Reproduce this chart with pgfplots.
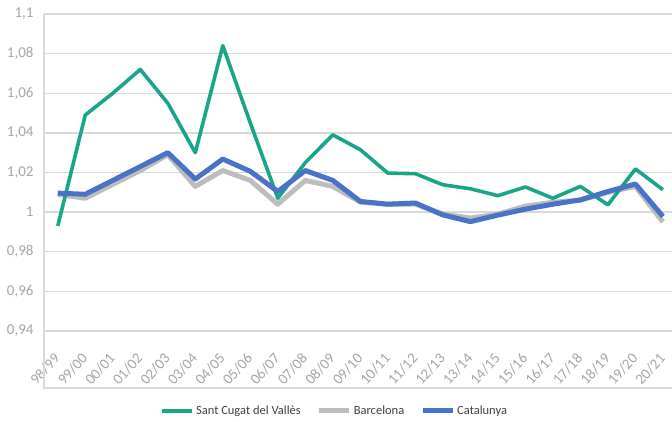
\documentclass[border=0pt]{standalone}
\usepackage{pgfplots}
\pgfplotsset{compat=1.18}
\usepackage{fontspec}
\setmainfont{Carlito}
\definecolor{scgreen}{HTML}{1AA58B}
\definecolor{bcngray}{HTML}{BDBDBD}
\definecolor{catblue}{HTML}{4A72C6}
\definecolor{tickgray}{HTML}{A6A6A6}
\definecolor{gridgray}{HTML}{D9D9D9}
\begin{document}
\begin{tikzpicture}
\begin{axis}[
  scale only axis, width=628pt, height=317pt,
  xmin=-0.5, xmax=22.33, ymin=0.94, ymax=1.1,
  clip=false,
  axis line style={draw=none},
  tick style={draw=none},
  ymajorgrids, grid style={gridgray, line width=1.3pt},
  ytick={0.94,0.96,0.98,1,1.02,1.04,1.06,1.08,1.1},
  yticklabels={{0,94},{0,96},{0,98},{1},{1,02},{1,04},{1,06},{1,08},{1,1}},
  xtick={0,...,22},
  xticklabels={98/99,99/00,00/01,01/02,02/03,03/04,04/05,05/06,06/07,07/08,08/09,09/10,10/11,11/12,12/13,13/14,14/15,15/16,16/17,17/18,18/19,19/20,20/21},
  /pgf/number format/assume math mode=true,
  ticklabel style={font=\fontsize{15}{17}\selectfont, text=tickgray},
  xticklabel style={xshift=-5pt, yshift=-16pt, rotate=48, anchor=north east},
  yticklabel style={xshift=-7pt},
  legend columns=3,
  legend style={at={(rel axis cs:0.463,-0.252)}, anchor=center, draw=none, fill=none,
    font=\fontsize{12.5}{14}\selectfont, text=black!75,
    /tikz/every even column/.append style={column sep=14pt}},
  legend image code/.code={\draw[#1, line cap=butt] (0pt,0pt) -- (30pt,0pt);},
]
\addplot[bcngray, line width=5pt, line join=round, forget plot] coordinates {
(0,1.009) (1,1.007) (2,1.014) (3,1.021) (4,1.029) (5,1.013) (6,1.021) (7,1.016)
(8,1.004) (9,1.016) (10,1.013) (11,1.005) (12,1.004) (13,1.004) (14,0.999) (15,0.997)
(16,0.999) (17,1.003) (18,1.005) (19,1.006) (20,1.010) (21,1.013) (22,0.995)};
\addplot[scgreen, line width=3.6pt, line join=round] coordinates {
(0,0.993) (1,1.049) (2,1.060) (3,1.072) (4,1.055) (5,1.030) (6,1.084) (7,1.045)
(8,1.007) (9,1.025) (10,1.039) (11,1.0315) (12,1.0197) (13,1.0194) (14,1.0138) (15,1.0118)
(16,1.0083) (17,1.0127) (18,1.007) (19,1.013) (20,1.0037) (21,1.0218) (22,1.0113)};
\addlegendentry{Sant Cugat del Vallès}
\addlegendimage{bcngray, line width=5pt}
\addlegendentry{Barcelona}
\addplot[catblue, line width=5pt, line join=round] coordinates {
(0,1.0096) (1,1.009) (2,1.016) (3,1.023) (4,1.030) (5,1.0167) (6,1.0268) (7,1.0206)
(8,1.0104) (9,1.021) (10,1.016) (11,1.0054) (12,1.004) (13,1.0046) (14,0.9986) (15,0.9952)
(16,0.9985) (17,1.0015) (18,1.004) (19,1.0062) (20,1.0104) (21,1.0142) (22,0.9978)};
\addlegendentry{Catalunya}
\draw[gridgray, line width=1.3pt] (rel axis cs:0,1) -- (rel axis cs:0,-0.18) -- (rel axis cs:1.05,-0.18);
\end{axis}
\pgfresetboundingbox
\path[use as bounding box] (-44pt,-90pt) rectangle (628pt,331pt);
\end{tikzpicture}
\end{document}
